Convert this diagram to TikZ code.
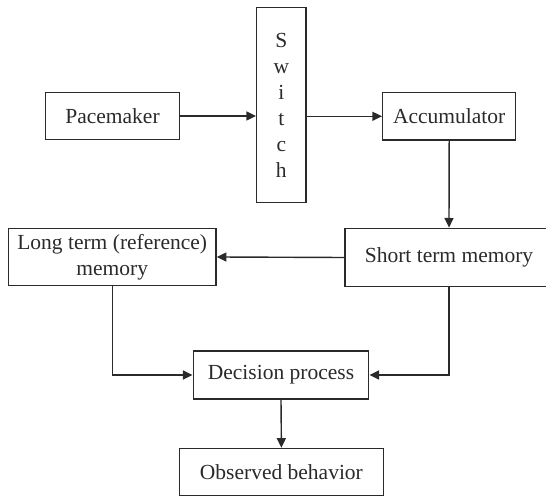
\documentclass[tikz,border=0pt]{standalone}
\usepackage{fontspec}
\setmainfont{Liberation Serif}
\usetikzlibrary{arrows.meta}
\definecolor{ink}{HTML}{2A2A2A}
\begin{document}
\begin{tikzpicture}[x=0.5pt,y=-0.5pt,
  box/.style={draw=ink,line width=0.7pt,text=ink,inner sep=0pt,align=center,
    font=\fontsize{10.75pt}{13pt}\selectfont},
  conn/.style={draw=ink,line width=0.7pt,-{Triangle[length=4.8pt,width=4.5pt]}}]
\clip (0,0) rectangle (546,496);
\node[box,minimum width=66.75pt,minimum height=23.75pt] (pace) at (112.5,116) {Pacemaker};
\node[box,minimum width=24.65pt,minimum height=97.7pt] (switch) at (281.3,105) {S\\w\\i\\t\\c\\h};
\node[box,minimum width=66.5pt,minimum height=23.65pt] (acc) at (449.2,116.3) {Accumulator};
\node[box,minimum width=104pt,minimum height=29.2pt] (stm) at (449,257.5) {Short term memory};
\node[box,minimum width=103.85pt,minimum height=28.7pt] (ltm) at (112.2,257) {Long term (reference)\\memory};
\node[box,minimum width=87.75pt,minimum height=23.85pt] (dec) at (281,375) {Decision process};
\node[box,minimum width=102pt,minimum height=23.5pt] (obs) at (281.4,472) {Observed behavior};
\draw[conn] (pace.east) -- (pace.east -| switch.west);
\draw[conn] (acc.west -| switch.east) -- (acc.west);
\draw[conn] (acc.south) -- (stm.north);
\draw[conn] (stm.west) -- (ltm.east);
\draw[conn] (ltm.south) |- (dec.west);
\draw[conn] (stm.south) |- (dec.east);
\draw[conn] (dec.south) -- (obs.north);
\end{tikzpicture}
\end{document}
